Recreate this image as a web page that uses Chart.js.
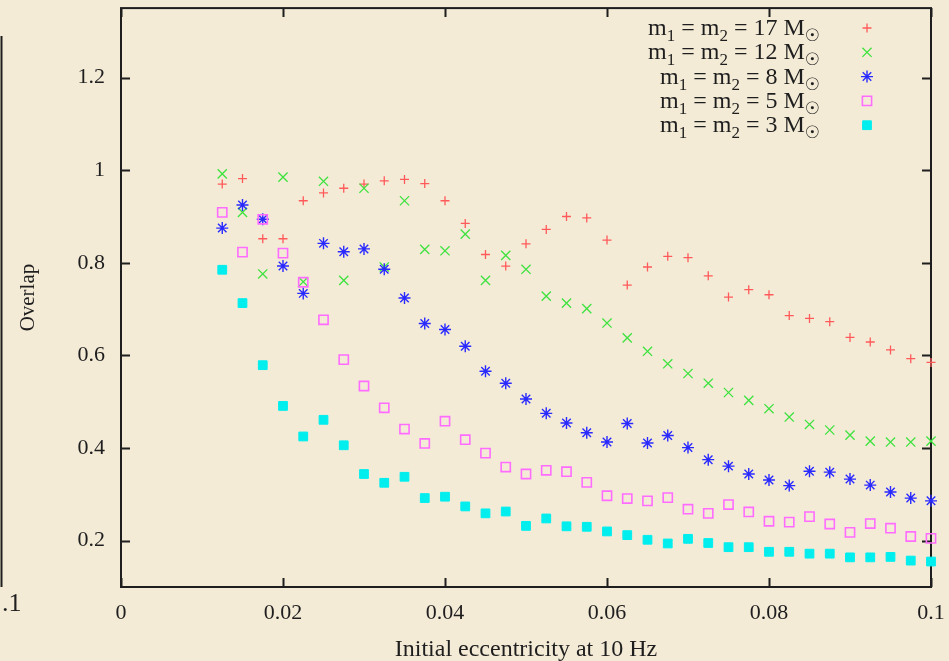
<!DOCTYPE html>
<html>
<head>
<meta charset="utf-8">
<title>Overlap vs initial eccentricity</title>
<script src="https://cdn.jsdelivr.net/npm/chart.js@4.4.1/dist/chart.umd.min.js"></script>
<style>
  html, body { margin: 0; padding: 0; background: #f4ebd7; }
  #wrap { width: 949px; height: 661px; }
</style>
</head>
<body>
<div id="wrap"><canvas id="overlapChart" width="949" height="661"></canvas></div>
<script>
// Initial eccentricity at 10 Hz (x values shared by every series)
const eccentricity = [
  0.0125, 0.015, 0.0175, 0.02, 0.0225, 0.025, 0.0275, 0.03, 0.0325, 0.035,
  0.0375, 0.04, 0.0425, 0.045, 0.0475, 0.05, 0.0525, 0.055, 0.0575, 0.06,
  0.0625, 0.065, 0.0675, 0.07, 0.0725, 0.075, 0.0775, 0.08, 0.0825, 0.085,
  0.0875, 0.09, 0.0925, 0.095, 0.0975, 0.1
];

// Overlap values, one array per mass
const overlap17 = [0.970, 0.982, 0.852, 0.852, 0.934, 0.951, 0.961, 0.970, 0.977, 0.980,
  0.971, 0.934, 0.885, 0.818, 0.793, 0.841, 0.872, 0.900, 0.897, 0.849,
  0.752, 0.791, 0.814, 0.811, 0.772, 0.726, 0.742, 0.731, 0.686, 0.680,
  0.673, 0.639, 0.629, 0.612, 0.593, 0.585];
const overlap12 = [0.992, 0.909, 0.776, 0.985, 0.759, 0.976, 0.762, 0.961, 0.791, 0.934,
  0.829, 0.826, 0.862, 0.762, 0.816, 0.786, 0.728, 0.713, 0.701, 0.670,
  0.638, 0.609, 0.582, 0.561, 0.540, 0.520, 0.503, 0.485, 0.467, 0.451,
  0.439, 0.428, 0.415, 0.413, 0.413, 0.415];
const overlap8 = [0.875, 0.925, 0.894, 0.793, 0.734, 0.842, 0.824, 0.830, 0.786, 0.724,
  0.669, 0.656, 0.620, 0.566, 0.540, 0.506, 0.475, 0.454, 0.433, 0.413,
  0.453, 0.411, 0.427, 0.401, 0.375, 0.361, 0.344, 0.331, 0.319, 0.350,
  0.348, 0.333, 0.320, 0.305, 0.292, 0.286];
const overlap5 = [0.909, 0.823, 0.894, 0.821, 0.758, 0.677, 0.591, 0.534, 0.487, 0.441,
  0.410, 0.458, 0.418, 0.389, 0.359, 0.344, 0.352, 0.349, 0.326, 0.297,
  0.291, 0.286, 0.293, 0.268, 0.259, 0.278, 0.262, 0.242, 0.240, 0.252,
  0.236, 0.218, 0.237, 0.227, 0.209, 0.205];
const overlap3 = [0.785, 0.713, 0.579, 0.491, 0.425, 0.461, 0.406, 0.344, 0.325, 0.338,
  0.292, 0.295, 0.274, 0.259, 0.263, 0.232, 0.248, 0.231, 0.230, 0.220,
  0.212, 0.202, 0.194, 0.204, 0.195, 0.186, 0.186, 0.176, 0.176, 0.172,
  0.172, 0.164, 0.164, 0.165, 0.157, 0.155];

const masses = ['17', '12', '8', '5', '3'];
const seriesLabels = masses.map(m => 'm1 = m2 = ' + m + ' M\u2609');

// Tick labels
const xTicks = [0, 0.02, 0.04, 0.06, 0.08, 0.1];
const yTicks = [0.2, 0.4, 0.6, 0.8, 1, 1.2];

const SERIF = "'Liberation Serif', 'DejaVu Serif', serif";
const INK = '#1e1e1e';

// Pair x and y arrays into scatter points
function toPoints(values) {
  return values.map((v, i) => ({ x: eccentricity[i], y: v }));
}

// Page background, frame with inward ticks on all four sides
const framePlugin = {
  id: 'frame',
  beforeDraw(chart) {
    const ctx = chart.ctx;
    ctx.save();
    ctx.fillStyle = '#f4ebd7';
    ctx.fillRect(0, 0, chart.width, chart.height);
    // edge of the neighbouring panel, cut off by the crop
    ctx.strokeStyle = INK;
    ctx.lineWidth = 2;
    ctx.beginPath();
    ctx.moveTo(1.5, 36);
    ctx.lineTo(1.5, 587);
    ctx.stroke();
    ctx.fillStyle = INK;
    ctx.font = '26px ' + SERIF;
    ctx.textAlign = 'left';
    ctx.textBaseline = 'alphabetic';
    ctx.fillText('.1', 2, 611);
    ctx.restore();
  },
  beforeDatasetsDraw(chart) {
    const { ctx, chartArea: a, scales } = chart;
    ctx.save();
    ctx.strokeStyle = INK;
    ctx.lineWidth = 2;
    ctx.strokeRect(a.left, a.top, a.right - a.left, a.bottom - a.top);
    ctx.beginPath();
    const tl = 9;
    scales.x.ticks.forEach(t => {
      const px = Math.round(scales.x.getPixelForValue(t.value)) + 0.5;
      ctx.moveTo(px, a.bottom); ctx.lineTo(px, a.bottom - tl);
      ctx.moveTo(px, a.top); ctx.lineTo(px, a.top + tl);
    });
    scales.y.ticks.forEach(t => {
      const py = Math.round(scales.y.getPixelForValue(t.value)) + 0.5;
      ctx.moveTo(a.left, py); ctx.lineTo(a.left + tl, py);
      ctx.moveTo(a.right, py); ctx.lineTo(a.right - tl, py);
    });
    ctx.stroke();
    ctx.restore();
  }
};

// gnuplot style key: right-aligned text with subscripts, symbol on the right
const keyPlugin = {
  id: 'key',
  afterDraw(chart) {
    const ctx = chart.ctx;
    const textRight = 820;
    const symX = 867;
    const big = '24px ' + SERIF;
    const small = '17px ' + SERIF;
    ctx.save();
    chart.data.datasets.forEach((ds, i) => {
      const yc = 28 + i * 24.3;
      const base = yc + 7;
      const parts = [
        { t: 'm', f: big, dy: 0 },
        { t: '1', f: small, dy: 6 },
        { t: ' = m', f: big, dy: 0 },
        { t: '2', f: small, dy: 6 },
        { t: ' = ' + masses[i] + ' M', f: big, dy: 0 },
        { t: '\u2609', f: "17px 'DejaVu Sans', sans-serif", dy: 6 }
      ];
      let total = 0;
      parts.forEach(p => { ctx.font = p.f; p.w = ctx.measureText(p.t).width; total += p.w; });
      let x = textRight - total;
      ctx.fillStyle = INK;
      ctx.textAlign = 'left';
      ctx.textBaseline = 'alphabetic';
      parts.forEach(p => { ctx.font = p.f; ctx.fillText(p.t, x, base + p.dy); x += p.w; });

      ctx.strokeStyle = ds.borderColor;
      ctx.fillStyle = ds.backgroundColor;
      ctx.lineWidth = ds.borderWidth;
      Chart.helpers.drawPoint(ctx, {
        pointStyle: ds.pointStyle,
        radius: ds.pointRadius,
        rotation: 0,
        borderWidth: ds.borderWidth
      }, symX, yc);
    });
    ctx.restore();
  }
};

const datasets = [
  { label: seriesLabels[0], data: toPoints(overlap17), pointStyle: 'cross', pointRadius: 4.5,
    borderColor: '#ff5a5a', backgroundColor: '#ff5a5a', borderWidth: 1.3, order: 5 },
  { label: seriesLabels[1], data: toPoints(overlap12), pointStyle: 'crossRot', pointRadius: 6.5,
    borderColor: '#3ee23e', backgroundColor: '#3ee23e', borderWidth: 1.3, order: 4 },
  { label: seriesLabels[2], data: toPoints(overlap8), pointStyle: 'star', pointRadius: 6,
    borderColor: '#2a2aff', backgroundColor: '#2a2aff', borderWidth: 1.4, order: 3 },
  { label: seriesLabels[3], data: toPoints(overlap5), pointStyle: 'rect', pointRadius: 6.5,
    borderColor: '#ff6cff', backgroundColor: 'rgba(0,0,0,0)', borderWidth: 1.6, order: 2 },
  { label: seriesLabels[4], data: toPoints(overlap3), pointStyle: 'rect', pointRadius: 6.2,
    borderColor: '#00eeee', backgroundColor: '#00eeee', borderWidth: 1, order: 1 }
];
datasets.forEach(ds => {
  ds.showLine = false;
  ds.clip = false;
  ds.pointHoverRadius = ds.pointRadius;
});

new Chart(document.getElementById('overlapChart'), {
  type: 'scatter',
  data: { datasets },
  options: {
    responsive: false,
    animation: false,
    events: [],
    layout: { padding: { top: 7, right: 18, left: 0, bottom: 0 } },
    plugins: {
      legend: { display: false },
      tooltip: { enabled: false }
    },
    scales: {
      x: {
        type: 'linear',
        min: 0,
        max: 0.1,
        grid: { display: false, drawTicks: false },
        border: { display: false },
        afterBuildTicks: scale => { scale.ticks = xTicks.map(v => ({ value: v })); },
        afterFit: scale => {
          scale.height = 74;
          scale.paddingLeft = 0;
          scale.paddingRight = 0;
        },
        ticks: {
          color: INK,
          font: { family: SERIF, size: 22 },
          padding: 13,
          maxRotation: 0,
          autoSkip: false,
          callback: v => String(v)
        },
        title: {
          display: true,
          text: 'Initial eccentricity at 10 Hz',
          color: INK,
          font: { family: SERIF, size: 24, lineHeight: 0.95 },
          padding: { top: 0, bottom: 0 }
        }
      },
      y: {
        type: 'linear',
        min: 0.1,
        max: 1.35,
        grid: { display: false, drawTicks: false },
        border: { display: false },
        afterBuildTicks: scale => { scale.ticks = yTicks.map(v => ({ value: v })); },
        afterFit: scale => {
          scale.width = 121;
          scale.paddingTop = 0;
          scale.paddingBottom = 0;
        },
        ticks: {
          color: INK,
          font: { family: SERIF, size: 22 },
          padding: 16,
          autoSkip: false,
          callback: v => String(v)
        },
        title: {
          display: true,
          text: 'Overlap',
          color: INK,
          font: { family: SERIF, size: 21, lineHeight: 1.2 },
          padding: { top: 16, bottom: 0 }
        }
      }
    }
  },
  plugins: [framePlugin, keyPlugin]
});
</script>
</body>
</html>
